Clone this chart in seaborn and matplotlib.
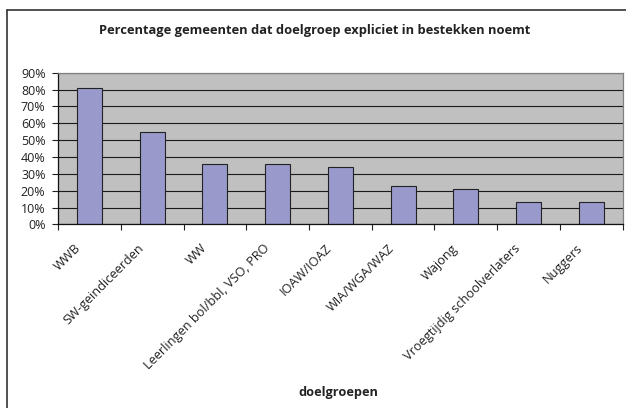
import seaborn as sb
import matplotlib.pyplot as plt
import matplotlib.ticker as mtick
import matplotlib.transforms as mtrans
import numpy as np
import pandas as pd

doelgroepen = ['WWB', 'SW-geindiceerden', 'WW', 'Leerlingen bol/bbl, VSO, PRO',
               'IOAW/IOAZ', 'WIA/WGA/WAZ', 'Wajong', 'Vroegtijdig schoolverlaters',
               'Nuggers']
percentages = [0.81, 0.55, 0.36, 0.36, 0.34, 0.23, 0.21, 0.13, 0.13]
y_ticks = [0.0, 0.1, 0.2, 0.3, 0.4, 0.5, 0.6, 0.7, 0.8, 0.9]

sb.set_style('white')
plt.rcParams['font.family'] = ['Open Sans', 'DejaVu Sans']

df = pd.DataFrame({'doelgroep': doelgroepen, 'percentage': percentages})

f = plt.figure(figsize=(6.26, 4.08), dpi=100)
ax = f.add_axes([0.0927, 0.450, 0.9020, 0.3718])
ax.set_facecolor('#c0c0c0')

sb.barplot(data=df, x='doelgroep', y='percentage', color='#9999cc',
           saturation=1, width=0.4, edgecolor='#222222', linewidth=0.8, ax=ax)

n = len(doelgroepen)
ax.set_xlim(-0.5, n - 0.5)
ax.set_ylim(0, 0.9)
ax.set_yticks(y_ticks)
ax.yaxis.set_major_formatter(mtick.PercentFormatter(1.0, decimals=0))
ax.yaxis.grid(True, color='#1a1a1a', linewidth=0.8)
ax.set_axisbelow(True)

# Excel stijl: streepjes tussen de categorieen, labels in het midden
ax.set_xticks(np.arange(-0.5, n, 1.0))
ax.set_xticklabels([])
ax.set_xticks(np.arange(n), minor=True)
ax.tick_params(axis='x', which='major', direction='out', length=4, width=0.8,
               color='#222222', bottom=True)
ax.tick_params(axis='x', which='minor', length=0, pad=6)
ax.tick_params(axis='y', direction='out', length=4, width=0.8, color='#222222',
               left=True, labelsize=9, labelcolor='#222222', pad=5)
labels = ax.set_xticklabels(doelgroepen, minor=True, rotation=45, ha='right',
                            rotation_mode='anchor', fontsize=9.2, color='#222222')
# labels iets naar links/onder schuiven zoals in Excel
offset = mtrans.ScaledTranslation(-0.15, -0.09, f.dpi_scale_trans)
for lab in labels:
    lab.set_transform(lab.get_transform() + offset)

for s in ['left', 'bottom']:
    ax.spines[s].set_color('#111111')
    ax.spines[s].set_linewidth(0.9)
for s in ['top', 'right']:
    ax.spines[s].set_color('#808080')
    ax.spines[s].set_linewidth(0.9)

ax.set_xlabel('')
ax.set_ylabel('')
f.text(0.541, 0.038, 'doelgroepen', ha='center', va='center',
       fontsize=9.2, fontweight='bold', color='#222222')
f.text(0.502, 0.925, 'Percentage gemeenten dat doelgroep expliciet in bestekken noemt',
       ha='center', va='center', fontsize=9.3, fontweight='bold', color='#222222')

# kader rond de grafiek (alleen links en boven zichtbaar)
f.add_artist(plt.Line2D([0.0112, 0.0112], [0.0, 0.9755], color='#333333',
                        linewidth=1.2, transform=f.transFigure))
f.add_artist(plt.Line2D([0.0112, 1.0], [0.9755, 0.9755], color='#333333',
                        linewidth=1.2, transform=f.transFigure))

f.savefig('out.png', dpi=100)
